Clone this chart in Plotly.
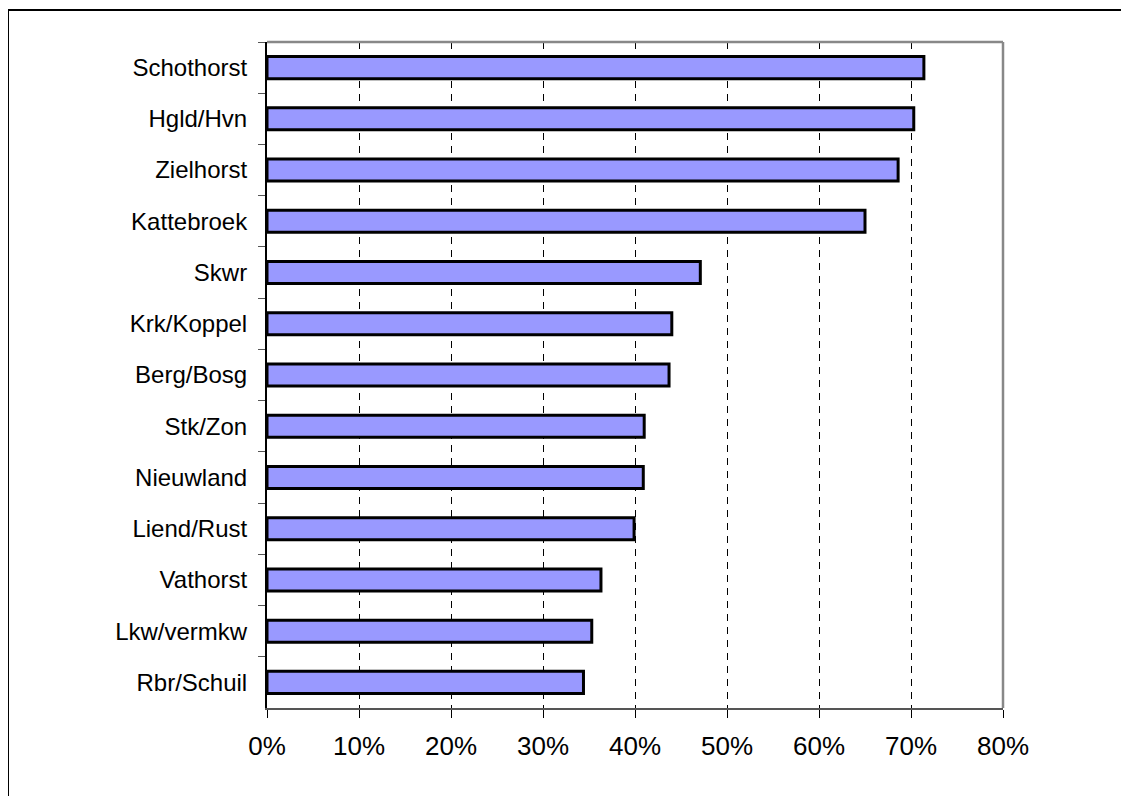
import plotly.graph_objects as go

categories = ["Schothorst", "Hgld/Hvn", "Zielhorst", "Kattebroek", "Skwr", "Krk/Koppel",
              "Berg/Bosg", "Stk/Zon", "Nieuwland", "Liend/Rust", "Vathorst", "Lkw/vermkw", "Rbr/Schuil"]
values = [0.714, 0.703, 0.686, 0.650, 0.471, 0.440, 0.437, 0.410, 0.409, 0.399, 0.363, 0.353, 0.344]
x_ticks = [0, 0.1, 0.2, 0.3, 0.4, 0.5, 0.6, 0.7, 0.8]

# page body has an 8px margin, so the figure is drawn offset by 8px
OFF = 8
W, H = 1129 - OFF, 796 - OFF
L, R, T, B = 267 - OFF, 1003 - OFF, 42 - OFF, 708 - OFF

fig = go.Figure()
fig.add_trace(go.Bar(
    x=values, y=categories, orientation="h",
    marker=dict(color="#9999FF", line=dict(color="black", width=3)),
    width=0.43, hoverinfo="skip",
))

def px_x(p):
    return (p - OFF - L) / (R - L)

def px_y(p):
    return (B - (p - OFF)) / (B - T)

fig.update_layout(
    width=W, height=H,
    margin=dict(l=L, r=W - R, t=T, b=H - B, pad=0),
    paper_bgcolor="white", plot_bgcolor="white",
    showlegend=False,
    font=dict(family="Liberation Sans, Arial, sans-serif", color="black"),
    xaxis=dict(
        range=[0, 0.8], tickvals=x_ticks, tickformat=".0%",
        showgrid=True, gridcolor="black", gridwidth=1, griddash="7px,6px",
        ticks="outside", ticklen=8, tickcolor="black", tickwidth=1,
        showline=True, linecolor="#555555", linewidth=2,
        tickfont=dict(size=26), ticklabelstandoff=6,
        zeroline=False, fixedrange=True,
    ),
    yaxis=dict(
        categoryorder="array", categoryarray=categories, autorange="reversed",
        tickson="boundaries", ticks="outside", ticklen=7, tickcolor="#555555", tickwidth=1,
        showline=True, linecolor="black", linewidth=2,
        showgrid=False, tickfont=dict(size=24), ticklabelstandoff=13,
        fixedrange=True,
    ),
    shapes=[
        # plot area frame (top and right, gray)
        dict(type="line", xref="paper", yref="paper", x0=0, x1=1, y0=1, y1=1,
             line=dict(color="#888888", width=2.5)),
        dict(type="line", xref="paper", yref="paper", x0=1, x1=1, y0=0, y1=1,
             line=dict(color="#888888", width=2.5)),
        # outer chart border (left and top, black)
        dict(type="line", xref="paper", yref="paper", x0=px_x(8), x1=px_x(8),
             y0=px_y(10), y1=px_y(820), line=dict(color="black", width=2)),
        dict(type="line", xref="paper", yref="paper", x0=px_x(8), x1=px_x(1140),
             y0=px_y(10), y1=px_y(10), line=dict(color="black", width=2)),
    ],
)

fig.write_html("out.html")
